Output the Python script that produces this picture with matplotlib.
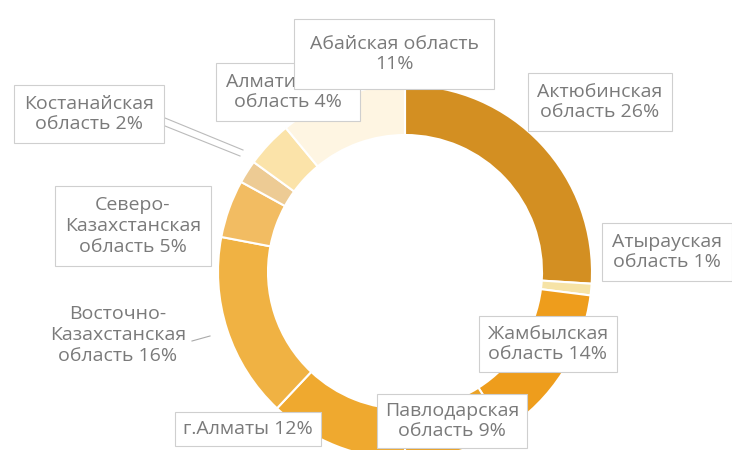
import matplotlib.pyplot as plt

regions = ["Актюбинская\nобласть", "Атырауская\nобласть", "Жамбылская\nобласть",
           "Павлодарская\nобласть", "г.Алматы", "Восточно-\nКазахстанская\nобласть",
           "Северо-\nКазахстанская\nобласть", "Костанайская\nобласть",
           "Алматинская\nобласть", "Абайская область\n"]
shares = [26, 1, 14, 9, 12, 16, 5, 2, 4, 11]
colors = ["#D38F22", "#F6E3A6", "#EE9D1C", "#EBA224", "#EFA92F", "#F0B243",
          "#F2BC62", "#EDCB94", "#FBE3A9", "#FEF5E2"]

W, H = 732, 450
fig = plt.figure(figsize=(W / 100, H / 100), dpi=100)
ax = fig.add_axes([0, 0, 1, 1])

cx, cy, r = 405, 450 - 272, 187
ax.pie(shares, colors=colors, startangle=90, counterclock=False,
       center=(cx, cy), radius=r,
       wedgeprops=dict(width=50, edgecolor="white", linewidth=1.5))
ax.set_xlim(0, W)
ax.set_ylim(0, H)
ax.axis("off")

# label box centres in pixel coords (from top-left) and box padding
label_pos = [(600, 102), (667, 252), (548, 344), (452, 421), (248, 429),
             (118, 335), (133, 226), (89, 114), (288, 92), (394, 54)]
pads = [0.5, 0.5, 0.45, 0.4, 0.4, 0, 0.5, 0.5, 0.5, 0.8]
boxed = [True, True, True, True, True, False, True, True, True, True]

def py(y):
    return H - y

# leader lines
ax.plot([165, 243], [py(118), py(150)], color="#BBBBBB", lw=0.8, zorder=1)
ax.plot([165, 240], [py(126), py(156)], color="#BBBBBB", lw=0.8, zorder=1)
ax.plot([192, 210], [py(341), py(336)], color="#AAAAAA", lw=0.8, zorder=1)

for i, (name, val) in enumerate(zip(regions, shares)):
    if name.endswith("\n"):
        txt = f"{name}{val}%"
    else:
        txt = f"{name} {val}%"
    x, y = label_pos[i]
    bbox = None
    if boxed[i]:
        bbox = dict(boxstyle=f"square,pad={pads[i]}", facecolor="white",
                    edgecolor="#CFCFCF", linewidth=0.8)
    ax.text(x, py(y), txt, ha="center", va="center", fontsize=14,
            color="#7A7A7A", family="Open Sans", linespacing=1.2,
            bbox=bbox, zorder=3 + i)

fig.savefig("out.png", dpi=100)
